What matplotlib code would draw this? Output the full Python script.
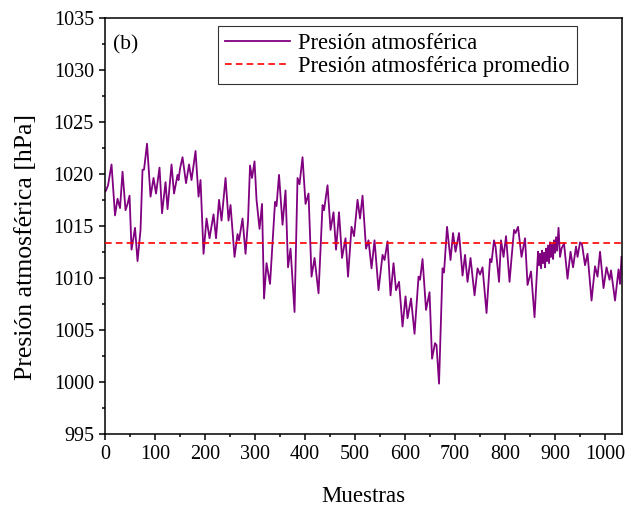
import numpy as np
import matplotlib
matplotlib.use('Agg')
import matplotlib.pyplot as plt
from matplotlib.ticker import MultipleLocator

plt.rcParams['font.family'] = ['Liberation Serif', 'DejaVu Serif']

# muestras (eje x) y presión
muestras = [0, 2, 6, 13, 20, 25, 30, 35, 41, 45, 49, 53, 60, 65, 71, 75, 78, 84, 91, 97,
            102, 109, 114, 121, 125, 133, 138, 145, 147, 150, 155, 162, 168, 173, 181, 187, 191, 197,
            203, 209, 217, 222, 228, 233, 241, 247, 251, 259, 265, 268, 275, 281, 286, 290, 294, 299,
            303, 309, 314, 318, 323, 330, 340, 343, 348, 355, 361, 366, 371, 379, 385, 389, 395,
            401, 407, 413, 419, 427, 435, 438, 445, 451, 457, 462, 468, 474, 481, 486, 493, 498,
            505, 510, 515, 522, 527, 533, 539, 547, 555, 559, 565, 571, 577, 582, 588, 595,
            601, 605, 612, 619, 627, 630, 635, 642, 649, 654, 660, 663, 668, 675, 678, 684, 691, 696,
            701, 708, 715, 720, 725, 731, 739, 745, 750, 755, 763, 770, 773, 778, 781, 788, 792, 797,
            802, 809, 813, 818, 821, 826, 833, 840, 845, 852, 859, 866, 868, 870, 872, 874, 876, 878,
            880, 882, 884, 886, 888, 890, 892, 894, 896, 898, 900, 902, 904, 907, 910, 913, 918,
            925, 931, 936, 942, 945, 950, 954, 960, 965, 973, 980, 985, 990, 997,
            1003, 1009, 1012, 1020, 1027, 1030, 1033]
presion = [1018.3, 1018.4, 1018.9, 1020.9, 1016.0, 1017.6, 1016.7, 1020.2, 1016.5, 1017.1, 1017.9,
           1012.7, 1014.8, 1011.6, 1014.6, 1020.4, 1020.4, 1022.9, 1017.8, 1019.6,
           1018.1, 1020.6, 1016.2, 1019.2, 1016.6, 1020.9, 1018.1, 1019.9, 1019.4, 1020.5, 1021.6,
           1019.1, 1020.9, 1019.4, 1022.2, 1017.8, 1019.4, 1012.3,
           1015.7, 1013.8, 1016.1, 1013.8, 1017.5, 1015.5, 1019.6, 1015.5, 1017.0, 1012.0, 1014.2,
           1013.6, 1015.7, 1012.3, 1015.5, 1020.8, 1019.6, 1021.2,
           1017.5, 1014.7, 1017.1, 1008.0, 1011.4, 1009.4, 1017.3, 1016.9, 1019.9, 1015.1, 1018.4,
           1011.0, 1012.8, 1006.7, 1019.6, 1019.0, 1021.6,
           1017.1, 1018.1, 1010.1, 1011.9, 1008.5, 1017.0, 1016.5, 1018.9, 1014.6, 1016.3, 1012.7,
           1016.3, 1011.9, 1013.8, 1010.1, 1014.9, 1014.0,
           1017.5, 1015.7, 1017.9, 1012.8, 1013.6, 1010.9, 1013.6, 1008.8, 1012.2, 1011.7, 1013.5,
           1008.3, 1011.4, 1008.8, 1009.6, 1005.3,
           1008.2, 1006.1, 1008.0, 1004.6, 1010.1, 1009.8, 1011.8, 1006.9, 1008.6, 1002.2, 1003.7,
           1003.5, 999.8, 1010.9, 1010.5, 1014.9, 1011.7, 1014.3,
           1012.5, 1014.3, 1010.2, 1012.2, 1009.6, 1011.9, 1008.3, 1010.9, 1010.3, 1011.0, 1006.6,
           1011.8, 1011.5, 1013.6, 1013.0, 1009.6, 1013.6, 1012.0,
           1014.0, 1009.6, 1011.9, 1014.6, 1014.3, 1014.9, 1012.0, 1013.8, 1009.3, 1010.6, 1006.2,
           1012.5, 1011.2, 1012.3, 1010.9, 1012.6, 1011.4, 1012.4,
           1011.0, 1012.8, 1011.6, 1013.1, 1011.4, 1013.4, 1012.0, 1013.2, 1011.8, 1013.6, 1012.4,
           1013.9, 1012.6, 1014.8, 1012.0, 1012.8, 1013.3,
           1009.9, 1012.5, 1011.0, 1013.0, 1012.0, 1013.4, 1013.2, 1011.2, 1012.3, 1007.8, 1011.1,
           1010.1, 1012.5, 1009.0,
           1011.0, 1009.8, 1010.7, 1007.8, 1010.8, 1009.4, 1012.0]
promedio = 1013.3

fig = plt.figure(figsize=(6.42, 5.12), dpi=100)
ax = fig.add_axes([0.1636, 0.1533, 0.8053, 0.8115])

ax.plot(muestras, presion, color='#800080', lw=1.3, label='Presión atmosférica')
ax.axhline(promedio, color='#ff0000', lw=1.2, ls=(0, (4, 2.5)), zorder=3,
           label='Presión atmosférica promedio')

ax.set_xlim(0, 1034)
ax.set_ylim(995, 1035)
ax.xaxis.set_major_locator(MultipleLocator(100))
ax.xaxis.set_minor_locator(MultipleLocator(50))
ax.yaxis.set_major_locator(MultipleLocator(5))
ax.yaxis.set_minor_locator(MultipleLocator(2.5))
ax.tick_params(which='both', direction='out', width=1.1, labelsize=14.5,
               top=False, right=False)
ax.tick_params(which='major', length=4.5)
ax.tick_params(which='minor', length=2.5)
for sp in ax.spines.values():
    sp.set_linewidth(1.1)

ax.set_xlabel('Muestras', fontsize=16.5, labelpad=16)
ax.set_ylabel('Presión atmosférica [hPa]', fontsize=18.5)
ax.yaxis.set_label_coords(-0.132, 0.449)
ax.text(0.015, 0.935, '(b)', transform=ax.transAxes, fontsize=15.5, va='center')

leg = ax.legend(loc='upper left', bbox_to_anchor=(0.2186, 0.981), borderaxespad=0,
                fontsize=16.3, frameon=True, fancybox=False, edgecolor='black',
                handlelength=2.9, handletextpad=0.35, borderpad=0.3, labelspacing=0.1)
leg.get_frame().set_linewidth(0.8)

fig.savefig('out.png', dpi=100)
